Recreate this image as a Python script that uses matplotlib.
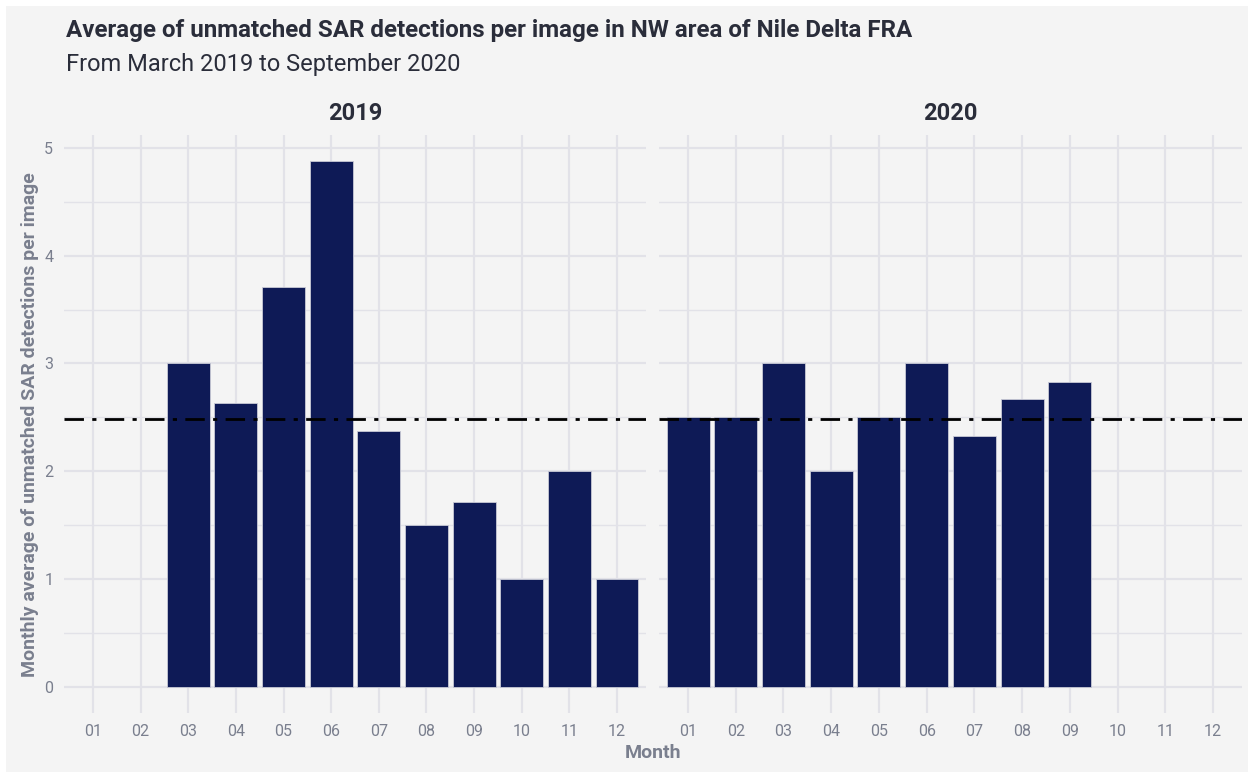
import numpy as np
import matplotlib.pyplot as plt
from matplotlib.patches import Rectangle

# Données
months = ["01", "02", "03", "04", "05", "06", "07", "08", "09", "10", "11", "12"]
months_2019 = [3, 4, 5, 6, 7, 8, 9, 10, 11, 12]
values_2019 = [3.0, 2.63, 3.71, 4.88, 2.375, 1.5, 1.71, 1.0, 2.0, 1.0]
months_2020 = [1, 2, 3, 4, 5, 6, 7, 8, 9]
values_2020 = [2.5, 2.5, 3.0, 2.0, 2.5, 3.0, 2.33, 2.67, 2.83]

mean_value = np.mean(values_2019 + values_2020)

bg = "#f4f4f4"
bar_color = "#0e1a56"
grid_color = "#e2e2e8"
text_gray = "#7a7f8e"

plt.rcParams["font.family"] = ["Roboto", "DejaVu Sans"]

W, H = 1248, 772
fig = plt.figure(figsize=(W / 100, H / 100), dpi=100, facecolor="white")
fig.patches.append(Rectangle((6 / W, 0), 1, 1 - 6 / H, transform=fig.transFigure,
                             facecolor=bg, edgecolor="none", zorder=-10))

bottom = 1 - 713 / H
height = (713 - 135) / H
panels = [
    (64.4, 645.6, "2019", months_2019, values_2019),
    (659.4, 1241.6, "2020", months_2020, values_2020),
]

for i, (x0, x1, year, mths, vals) in enumerate(panels):
    ax = fig.add_axes([x0 / W, bottom, (x1 - x0) / W, height])
    ax.set_facecolor(bg)
    ax.patch.set_alpha(0)
    ax.bar(mths, vals, width=0.9, color=bar_color, edgecolor="#c8cad6",
           linewidth=0.6, zorder=3)
    ax.axhline(mean_value, color="black", linestyle=(0, (7, 3, 1.5, 3)),
               linewidth=2, zorder=4)
    ax.set_xlim(0.4, 12.6)
    ax.set_ylim(-0.244, 5.12)
    ax.set_xticks(range(1, 13))
    ax.set_xticklabels(months)
    ax.set_yticks([0, 1, 2, 3, 4, 5])
    ax.set_yticks([0.5, 1.5, 2.5, 3.5, 4.5], minor=True)
    ax.grid(True, which="major", color=grid_color, linewidth=1.6, zorder=0)
    ax.grid(True, which="minor", axis="y", color=grid_color, linewidth=1.0, zorder=0)
    ax.tick_params(which="both", length=0, colors=text_gray, labelsize=11.5, pad=8)
    if i == 1:
        ax.set_yticklabels([])
    for s in ax.spines.values():
        s.set_visible(False)
    # Titre de facette (année)
    fig.text((x0 + x1) / 2 / W, 1 - 113 / H, year, ha="center", va="center",
             fontsize=17, fontweight="bold", color="#2a2d3a")

fig.text(66 / W, 1 - 30 / H, "Average of unmatched SAR detections per image in NW area of Nile Delta FRA",
         fontsize=17.4, fontweight="bold", color="#2a2d3a", va="center")
fig.text(66 / W, 1 - 65 / H, "From March 2019 to September 2020",
         fontsize=17, color="#2a2d3a", va="center")
fig.text(30 / W, 1 - 425 / H, "Monthly average of unmatched SAR detections per image",
         rotation=90, fontsize=14, fontweight="bold", color=text_gray, ha="center", va="center")
fig.text(653 / W, 1 - 753 / H, "Month", fontsize=14, fontweight="bold",
         color=text_gray, ha="center", va="center")

fig.savefig("out.png", dpi=100, facecolor=fig.get_facecolor())
